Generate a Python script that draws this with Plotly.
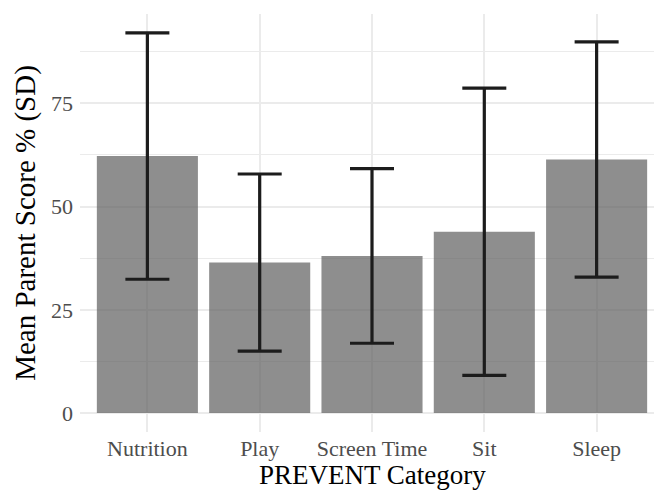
import plotly.graph_objects as go

categories = ["Nutrition", "Play", "Screen Time", "Sit", "Sleep"]
mean_scores = [62.25, 36.45, 38.05, 43.9, 61.4]
sd_scores = [29.85, 21.45, 21.15, 34.8, 28.5]
y_tick_vals = [0, 25, 50, 75]
y_tick_text = ["0", "25", "50", "75"]

FONT = "Liberation Serif"

fig = go.Figure()
fig.add_trace(go.Bar(
    x=list(range(1, len(categories) + 1)),
    y=mean_scores,
    width=0.9,
    marker=dict(color="rgba(89,89,89,0.68)", line=dict(width=0)),
    error_y=dict(type="data", array=sd_scores, visible=True,
                 color="#1c1c1c", thickness=3.2, width=22),
))

# page body has an 8px margin: compensate so the panel lands where the reference has it
fig.update_layout(
    width=662, height=492,
    margin=dict(l=72, r=6, t=6, b=68),
    paper_bgcolor="white", plot_bgcolor="white",
    showlegend=False,
    font=dict(family=FONT, color="#4d4d4d", size=22),
    xaxis=dict(
        range=[0.4, 5.6],
        tickmode="array",
        tickvals=list(range(1, len(categories) + 1)),
        ticktext=categories,
        showgrid=True, gridcolor="#ebebeb", gridwidth=2,
        zeroline=False, showline=False, ticks="",
        tickfont=dict(family=FONT, size=22, color="#4d4d4d"),
        ticklabelstandoff=1,
        automargin=False,
    ),
    yaxis=dict(
        range=[-4.6, 96.65],
        tickmode="array", tickvals=y_tick_vals, ticktext=y_tick_text,
        showgrid=True, gridcolor="#ebebeb", gridwidth=2,
        minor=dict(tickmode="array", tickvals=[12.5, 37.5, 62.5, 87.5], showgrid=True, gridcolor="#ebebeb", gridwidth=1),
        zeroline=False, showline=False, ticks="",
        tickfont=dict(family=FONT, size=22, color="#4d4d4d"),
        ticklabelstandoff=6,
        title=dict(text="Mean Parent Score % (SD)", font=dict(family=FONT, size=29, color="black"), standoff=6),
        automargin=False,
    ),
    annotations=[dict(
        text="PREVENT Category", xref="paper", yref="paper",
        x=0.5, y=-0.1445, xanchor="center", yanchor="bottom",
        showarrow=False, font=dict(family=FONT, size=27, color="black"),
    )],
)

fig.write_html("out.html")
